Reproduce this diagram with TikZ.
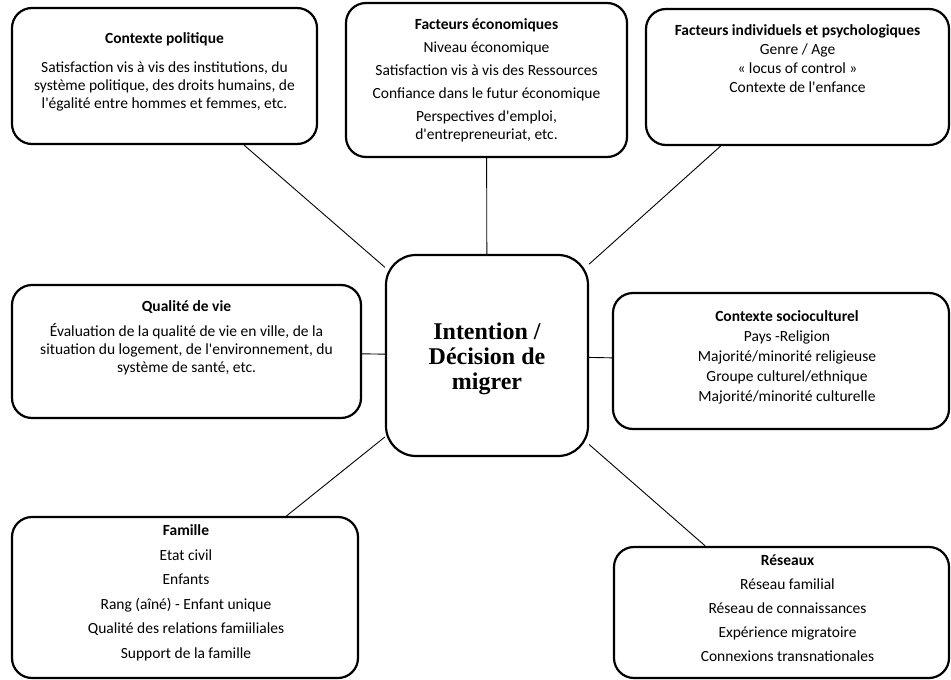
\documentclass[tikz,border=0pt]{standalone}
\usepackage{fontspec}
\setmainfont{Carlito}[Ligatures=TeXOff]
\newfontfamily\timesbf{Liberation Serif}
\usetikzlibrary{positioning}
\tikzstyle{box}=[draw, rectangle, rounded corners=20pt, line width=2.2pt]
\tikzstyle{txt}=[align=center, inner sep=0pt, font=\fontsize{15.5}{18}\selectfont]
\tikzstyle{link}=[line width=0.9pt]

\begin{document}
\begin{tikzpicture}[x=1pt, y=-1pt]
\useasboundingbox (0,0) rectangle (951,680);
\node [box, minimum width=305pt, minimum height=136pt] (pol) at (164.5,76) {};
\node [box, minimum width=281pt, minimum height=154pt] (eco) at (486.5,80) {};
\node [box, minimum width=303pt, minimum height=136pt] (ind) at (797.5,77) {};
\node [box, minimum width=349pt, minimum height=133pt] (qua) at (186.5,351.5) {};
\node [box, minimum width=336pt, minimum height=136pt] (soc) at (781,361) {};
\node [box, minimum width=346pt, minimum height=161pt] (fam) at (185,597.5) {};
\node [box, minimum width=335pt, minimum height=131pt] (res) at (781.5,612.5) {};
\node [box, rounded corners=30pt, minimum width=202pt, minimum height=201pt] (mig) at (487,355.5) {};

\node [align=center, font=\timesbf\bfseries\fontsize{24}{25}\selectfont, yshift=-3pt] (migtxt) at (mig)
  {Intention /\\Décision de\\migrer};
\node [txt, below=25pt of pol.north] (poltxt) {\textbf{Contexte politique}\\[12pt]
  Satisfaction vis à vis des institutions, du\\système politique, des droits humains, de\\l'égalité entre hommes et femmes, etc.};
\node [txt, below=17pt of eco.north] (ecotxt) {\textbf{Facteurs économiques}\\[5pt]
  Niveau économique\\[5pt]Satisfaction vis à vis des Ressources\\[5pt]Confiance dans le futur économique\\[5pt]
  Perspectives d'emploi,\\d'entrepreneuriat, etc.};
\node [txt, below=17pt of ind.north] (indtxt) {\textbf{Facteurs individuels et psychologiques}\\[1pt]
  Genre / Age\\[1pt]« locus of control »\\[1pt]Contexte de l'enfance};
\node [txt, below=17pt of qua.north] (quatxt) {\textbf{Qualité de vie}\\[7pt]
  Évaluation de la qualité de vie en ville, de la\\situation du logement, de l'environnement, du\\système de santé, etc.};
\node [txt, below=19pt of soc.north, xshift=6pt] (soctxt) {\textbf{Contexte socioculturel}\\[2pt]
  Pays -Religion\\[2pt]Majorité/minorité religieuse\\[2pt]Groupe culturel/ethnique\\[2pt]Majorité/minorité culturelle};
\node [txt, below=9pt of fam.north, xshift=1pt] (famtxt) {\textbf{Famille}\\[6.5pt]
  Etat civil\\[6.5pt]Enfants\\[6.5pt]Rang (aîné) - Enfant unique\\[6.5pt]Qualité des relations famiiliales\\[6.5pt]Support de la famille};
\node [txt, below=9pt of res.north, xshift=6pt] (restxt) {\textbf{Réseaux}\\[6pt]
  Réseau familial\\[6pt]Réseau de connaissances\\[6pt]Expérience migratoire\\[6pt]Connexions transnationales};

\draw [link] (mig) -- (pol);
\draw [link] (mig) -- (eco);
\draw [link] (mig) -- (ind);
\draw [link] (mig) -- (qua);
\draw [link] (mig) -- (soc);
\draw [link] (mig) -- (fam);
\draw [link] (mig) -- (res);
\end{tikzpicture}
\end{document}
